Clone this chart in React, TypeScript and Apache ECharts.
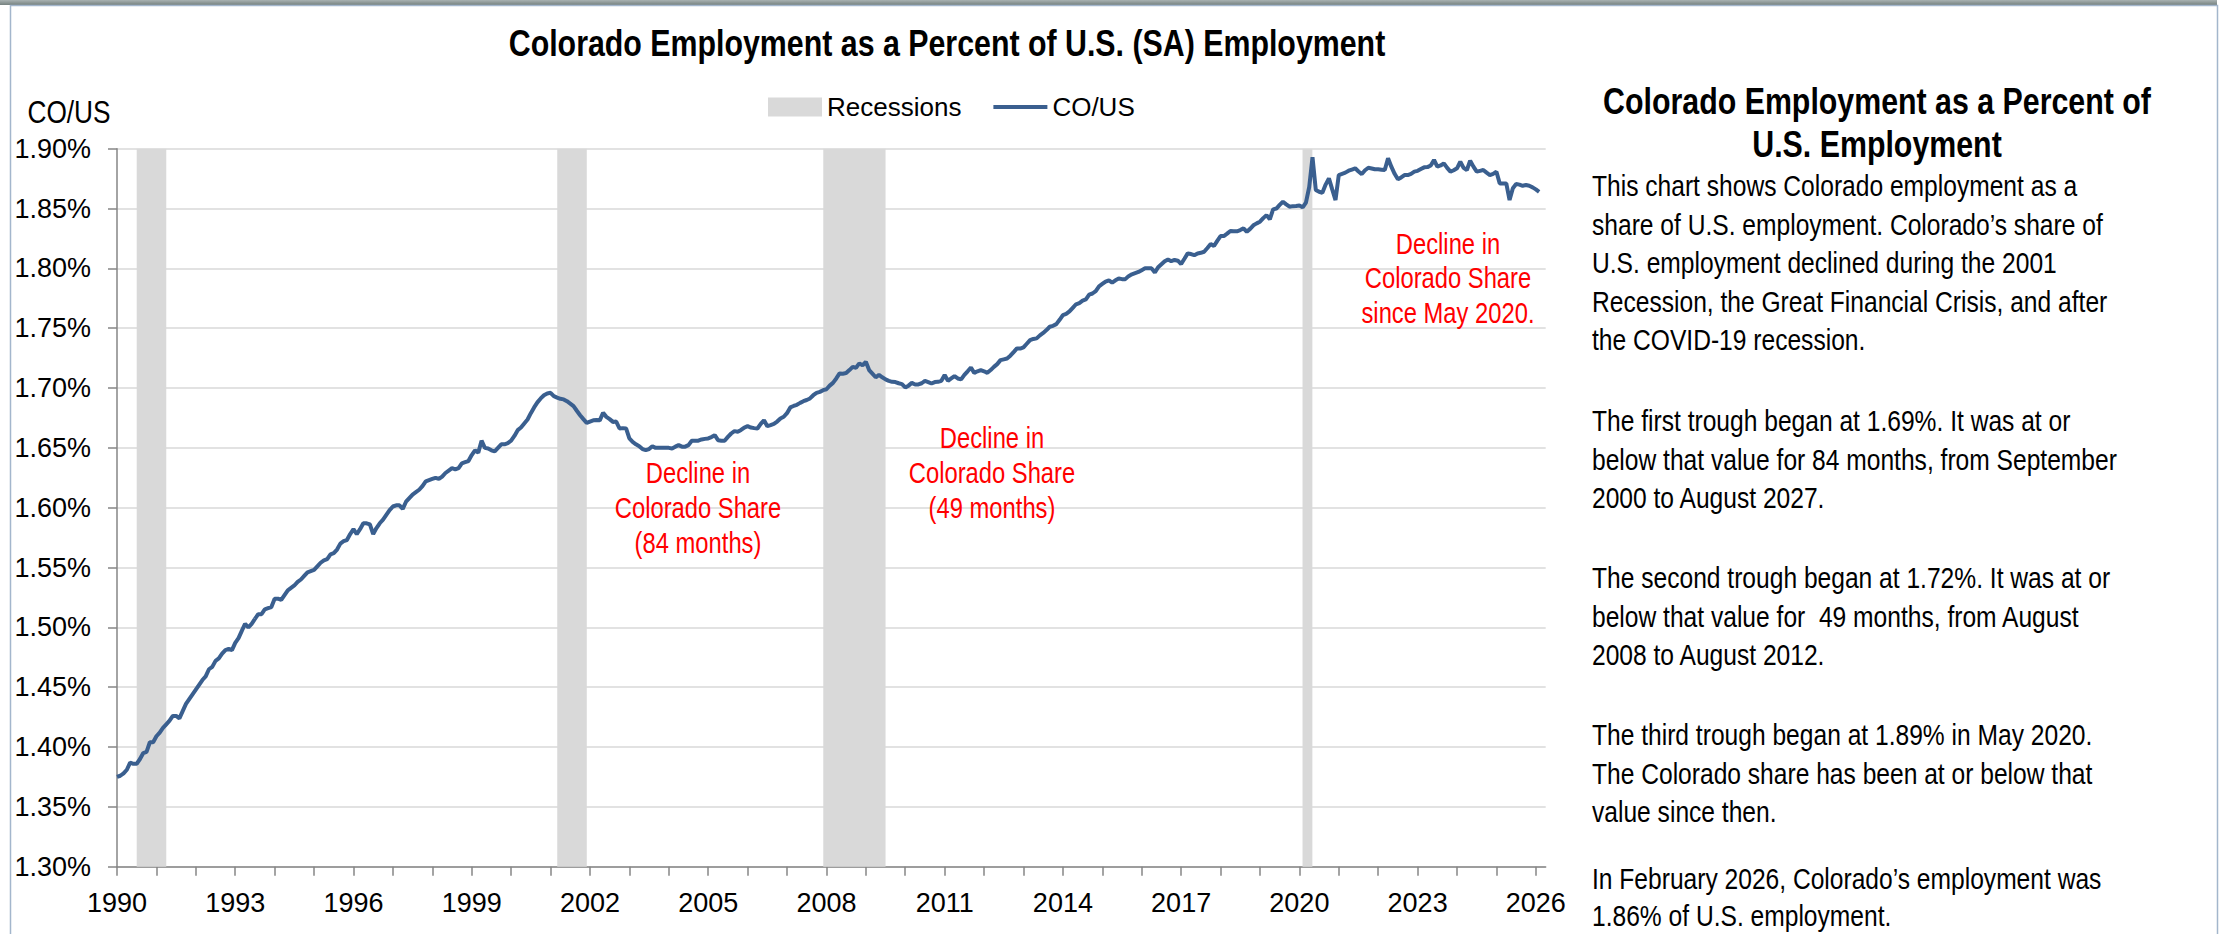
import { useEffect, useRef } from 'react';
import * as echarts from 'echarts';

// ---------- data ----------
const START_YEAR = 1990; // first month = January 1990, monthly through February 2026

const co1990s = [
  1.375, 1.376, 1.378, 1.381, 1.387, 1.386, 1.386, 1.390, 1.395, 1.396, 1.404, 1.404,
  1.409, 1.412, 1.416, 1.419, 1.422, 1.426, 1.426, 1.424, 1.430, 1.436, 1.440, 1.444,
  1.448, 1.452, 1.456, 1.459, 1.465, 1.467, 1.472, 1.474, 1.478, 1.481, 1.482, 1.481,
  1.487, 1.491, 1.497, 1.503, 1.500, 1.503, 1.507, 1.511, 1.511, 1.515, 1.516, 1.517,
  1.524, 1.524, 1.523, 1.527, 1.531, 1.533, 1.535, 1.538, 1.540, 1.543, 1.546, 1.547,
  1.548, 1.551, 1.554, 1.556, 1.557, 1.561, 1.562, 1.565, 1.570, 1.572, 1.573, 1.578,
  1.582, 1.578, 1.582, 1.587, 1.587, 1.586, 1.578, 1.583, 1.587, 1.590, 1.594, 1.598,
  1.601, 1.602, 1.602, 1.599, 1.605, 1.608, 1.611, 1.613, 1.615, 1.618, 1.622, 1.623,
  1.624, 1.625, 1.624, 1.626, 1.629, 1.631, 1.633, 1.632, 1.633, 1.637, 1.638, 1.639,
  1.644, 1.648, 1.646, 1.656, 1.650, 1.6495, 1.648, 1.647, 1.650, 1.653, 1.653, 1.654,
];

const co2000s = [
  1.656, 1.660, 1.6648, 1.667, 1.6704, 1.6737, 1.679, 1.6838, 1.688, 1.6913, 1.694, 1.6955,
  1.696, 1.6932, 1.692, 1.691, 1.6905, 1.689, 1.687, 1.6849, 1.681, 1.6773, 1.674, 1.6709,
  1.672, 1.673, 1.6732, 1.673, 1.6793, 1.6759, 1.674, 1.6717, 1.672, 1.6662, 1.6665, 1.6662,
  1.6579, 1.655, 1.653, 1.6514, 1.649, 1.6481, 1.649, 1.6514, 1.650, 1.650, 1.650, 1.650,
  1.650, 1.6495, 1.651, 1.6523, 1.651, 1.651, 1.6523, 1.6559, 1.656, 1.656, 1.657, 1.6575,
  1.6579, 1.659, 1.6606, 1.6564, 1.656, 1.656, 1.6592, 1.662, 1.664, 1.6635, 1.665, 1.667,
  1.6681, 1.667, 1.6665, 1.6662, 1.670, 1.6731, 1.6681, 1.669, 1.670, 1.672, 1.6746, 1.676,
  1.679, 1.6838, 1.685, 1.686, 1.6876, 1.689, 1.690, 1.6913, 1.694, 1.696, 1.6968, 1.6982,
  1.699, 1.702, 1.7043, 1.708, 1.7122, 1.712, 1.7125, 1.715, 1.7177, 1.717, 1.7206, 1.719,
  1.7219, 1.715, 1.712, 1.709, 1.711, 1.709, 1.7072, 1.706, 1.7052, 1.705, 1.704, 1.7033,
];

const co2010s = [
  1.7005, 1.702, 1.7043, 1.703, 1.703, 1.704, 1.706, 1.705, 1.7038, 1.705, 1.7052, 1.706,
  1.7108, 1.706, 1.708, 1.710, 1.708, 1.7072, 1.711, 1.714, 1.7172, 1.7127, 1.714, 1.715,
  1.714, 1.7127, 1.715, 1.7177, 1.720, 1.7233, 1.724, 1.7247, 1.727, 1.730, 1.7331, 1.733,
  1.734, 1.737, 1.740, 1.741, 1.7415, 1.744, 1.746, 1.7484, 1.7512, 1.752, 1.7534, 1.757,
  1.761, 1.762, 1.764, 1.767, 1.770, 1.771, 1.773, 1.774, 1.778, 1.779, 1.781, 1.785,
  1.787, 1.789, 1.790, 1.788, 1.790, 1.7915, 1.791, 1.791, 1.7935, 1.795, 1.796, 1.797,
  1.7985, 1.800, 1.800, 1.800, 1.7965, 1.801, 1.8035, 1.806, 1.8075, 1.806, 1.807, 1.8064,
  1.8036, 1.808, 1.8125, 1.812, 1.811, 1.8125, 1.813, 1.8139, 1.817, 1.8203, 1.8187, 1.823,
  1.827, 1.827, 1.829, 1.8312, 1.831, 1.831, 1.832, 1.8334, 1.8306, 1.833, 1.836, 1.8376,
  1.839, 1.842, 1.8445, 1.841, 1.8493, 1.850, 1.853, 1.8557, 1.8535, 1.8515, 1.852, 1.8521,
];

const co2020s = [
  1.8525, 1.851, 1.855, 1.868, 1.8928, 1.8655, 1.864, 1.8632, 1.870, 1.8752, 1.866, 1.8571,
  1.878, 1.879, 1.880, 1.8816, 1.8826, 1.8836, 1.881, 1.8788, 1.882, 1.8841, 1.8835, 1.8828,
  1.8828, 1.8825, 1.8822, 1.892, 1.885, 1.879, 1.8744, 1.876, 1.878, 1.878, 1.879, 1.8808,
  1.8815, 1.883, 1.8844, 1.8846, 1.886, 1.8906, 1.885, 1.886, 1.8878, 1.884, 1.8808, 1.882,
  1.8836, 1.8891, 1.884, 1.8822, 1.890, 1.885, 1.8808, 1.8815, 1.8822, 1.880, 1.878, 1.879,
  1.8808, 1.871, 1.871, 1.871, 1.8571, 1.867, 1.8705, 1.870, 1.869, 1.8696, 1.869, 1.8677,
  1.866, 1.864,
];

// recessions as decimal years (start, end)
const recessionStarts = [1990.5, 2001.17, 2007.92, 2020.08];
const recessionEnds = [1991.25, 2001.92, 2009.5, 2020.33];

// axes
const Y_MIN = 1.3;
const Y_MAX = 1.9;
const Y_STEP = 0.05;
const X_MIN = 1990;
const X_MAX = 2026.25;
const xTickYears = [
  1990, 1991, 1992, 1993, 1994, 1995, 1996, 1997, 1998, 1999, 2000, 2001, 2002,
  2003, 2004, 2005, 2006, 2007, 2008, 2009, 2010, 2011, 2012, 2013, 2014, 2015,
  2016, 2017, 2018, 2019, 2020, 2021, 2022, 2023, 2024, 2025, 2026,
];
const xLabelYears = [1990, 1993, 1996, 1999, 2002, 2005, 2008, 2011, 2014, 2017, 2020, 2023, 2026];

// texts
const chartTitle = 'Colorado Employment as a Percent of U.S. (SA) Employment';
const yAxisTitle = 'CO/US';
const seriesName = 'CO/US';
const recessionName = 'Recessions';
const annotationTexts = [
  'Decline in\nColorado Share\n(84 months)',
  'Decline in\nColorado Share\n(49 months)',
  'Decline in\nColorado Share\nsince May 2020.',
];
const sideTitle = 'Colorado Employment as a Percent of\nU.S. Employment';
const sideParagraphs = [
  'This chart shows Colorado employment as a\nshare of U.S. employment. Colorado\u2019s share of\nU.S. employment declined during the 2001\nRecession, the Great Financial Crisis, and after\nthe COVID-19 recession.',
  'The first trough began at 1.69%. It was at or\nbelow that value for 84 months, from September\n2000 to August 2027.',
  'The second trough began at 1.72%. It was at or\nbelow that value for  49 months, from August\n2008 to August 2012.',
  'The third trough began at 1.89% in May 2020.\nThe Colorado share has been at or below that\nvalue since then.',
  'In February 2026, Colorado\u2019s employment was\n1.86% of U.S. employment.',
];

// ---------- styles / layout ----------
const FONT = "'Liberation Sans', Arial, sans-serif";
const SX = 0.82; // horizontal squeeze to mimic a narrow face
const LINE_COLOR = '#3a5f8f';
const REC_COLOR = '#d9d9d9';
const AXIS_COLOR = '#868686';
const GRID = { left: 117, top: 148.7, width: 1428.7, height: 718 };

const annotationPos = [
  { x: 698, y: 508 },
  { x: 992, y: 473 },
  { x: 1448, y: 278.5 },
];
const paragraphTops = [186, 421, 578, 735, 879];
const paragraphLH = [38.5, 38.5, 38.5, 38.5, 37];

function narrowText(x: number, y: number, text: string, o: any) {
  return {
    type: 'text',
    x,
    y,
    scaleX: SX,
    scaleY: 1,
    z: o.z ?? 5,
    silent: true,
    style: {
      text,
      fontFamily: FONT,
      fontSize: o.fontSize,
      fontWeight: o.fontWeight ?? 'normal',
      lineHeight: o.lineHeight,
      fill: o.fill ?? '#000',
      align: o.align,
      verticalAlign: o.verticalAlign,
      textAlign: o.align,
      textVerticalAlign: o.verticalAlign,
    },
  };
}

function buildOption() {
  const all = [...co1990s, ...co2000s, ...co2010s, ...co2020s];
  const lineData = all.map((v, i) => [START_YEAR + i / 12, v]);
  const recData = recessionStarts.map((s, k) => [s, recessionEnds[k]]);

  const graphics: any[] = [
    {
      type: 'rect',
      shape: { x: 0, y: 0, width: 2217, height: 5 },
      style: {
        fill: new echarts.graphic.LinearGradient(0, 0, 0, 1, [
          { offset: 0, color: '#a9b2b2' },
          { offset: 1, color: '#75817f' },
        ]),
      },
      silent: true,
    },
    {
      type: 'rect',
      shape: { x: 10.5, y: 5.5, width: 2207, height: 940 },
      style: { fill: 'none', stroke: '#a3b6cc', lineWidth: 1.5 },
      silent: true,
    },
    narrowText(947, 43, chartTitle, {
      fontSize: 37, fontWeight: 'bold', align: 'center', verticalAlign: 'middle',
    }),
    narrowText(69, 112, yAxisTitle, {
      fontSize: 32, align: 'center', verticalAlign: 'middle',
    }),
    narrowText(1877, 79.5, sideTitle, {
      fontSize: 37, fontWeight: 'bold', lineHeight: 43, align: 'center', verticalAlign: 'top',
    }),
  ];

  annotationTexts.forEach((t, k) => {
    graphics.push(
      narrowText(annotationPos[k].x, annotationPos[k].y, t, {
        fontSize: 29, lineHeight: 34.7, fill: '#ff0000', align: 'center', verticalAlign: 'middle', z: 10,
      })
    );
  });

  sideParagraphs.forEach((t, k) => {
    graphics.push(
      narrowText(1592, paragraphTops[k] - paragraphLH[k] / 2, t, {
        fontSize: 30, lineHeight: paragraphLH[k], align: 'left', verticalAlign: 'top',
      })
    );
  });

  return {
    animation: false,
    backgroundColor: '#ffffff',
    grid: { ...GRID, containLabel: false },
    legend: {
      left: 768,
      top: 94,
      padding: 0,
      itemWidth: 54,
      itemHeight: 19,
      itemGap: 30,
      textStyle: { fontFamily: FONT, fontSize: 26, color: '#000' },
      data: [
        { name: recessionName, icon: 'rect', itemStyle: { color: REC_COLOR } },
        { name: seriesName, itemStyle: { opacity: 0 }, lineStyle: { color: LINE_COLOR, width: 4 } },
      ],
    },
    xAxis: {
      type: 'value',
      min: X_MIN,
      max: X_MAX,
      axisLine: { show: true, lineStyle: { color: AXIS_COLOR, width: 1.5 } },
      axisTick: {
        show: true,
        customValues: xTickYears,
        length: 9,
        lineStyle: { color: AXIS_COLOR, width: 1.5 },
      },
      axisLabel: {
        customValues: xLabelYears,
        formatter: (v: number) => String(Math.round(v)),
        fontFamily: FONT,
        fontSize: 27,
        color: '#000',
        margin: 23,
      },
      splitLine: { show: false },
    },
    yAxis: {
      type: 'value',
      min: Y_MIN,
      max: Y_MAX,
      interval: Y_STEP,
      axisLine: { show: true, lineStyle: { color: AXIS_COLOR, width: 1.5 } },
      axisTick: { show: true, length: 9, lineStyle: { color: AXIS_COLOR, width: 1.5 } },
      axisLabel: {
        formatter: (v: number) => v.toFixed(2) + '%',
        fontFamily: FONT,
        fontSize: 27,
        color: '#000',
        margin: 26,
      },
      splitLine: { show: true, lineStyle: { color: '#d9d9d9', width: 1.5 } },
    },
    series: [
      {
        name: recessionName,
        type: 'custom',
        data: recData,
        encode: { x: [0, 1] },
        itemStyle: { color: REC_COLOR },
        z: 1,
        renderItem: (_params: any, api: any) => {
          const p0 = api.coord([api.value(0), Y_MAX]);
          const p1 = api.coord([api.value(1), Y_MIN]);
          return {
            type: 'rect',
            shape: { x: p0[0], y: p0[1], width: p1[0] - p0[0], height: p1[1] - p0[1] },
            style: { fill: REC_COLOR },
          };
        },
      },
      {
        name: seriesName,
        type: 'line',
        data: lineData,
        symbol: 'none',
        showSymbol: false,
        lineStyle: { color: LINE_COLOR, width: 4 },
        itemStyle: { color: LINE_COLOR },
        z: 3,
      },
    ],
    graphic: graphics,
  };
}

export default function App() {
  const ref = useRef<HTMLDivElement>(null);
  useEffect(() => {
    if (!ref.current) return;
    const chart = echarts.init(ref.current, null, { renderer: 'svg' });
    chart.setOption(buildOption() as any);
    return () => chart.dispose();
  }, []);
  return (
    <div
      ref={ref}
      style={{ position: 'absolute', left: 0, top: 0, width: 2224, height: 934, background: '#fff' }}
    />
  );
}
